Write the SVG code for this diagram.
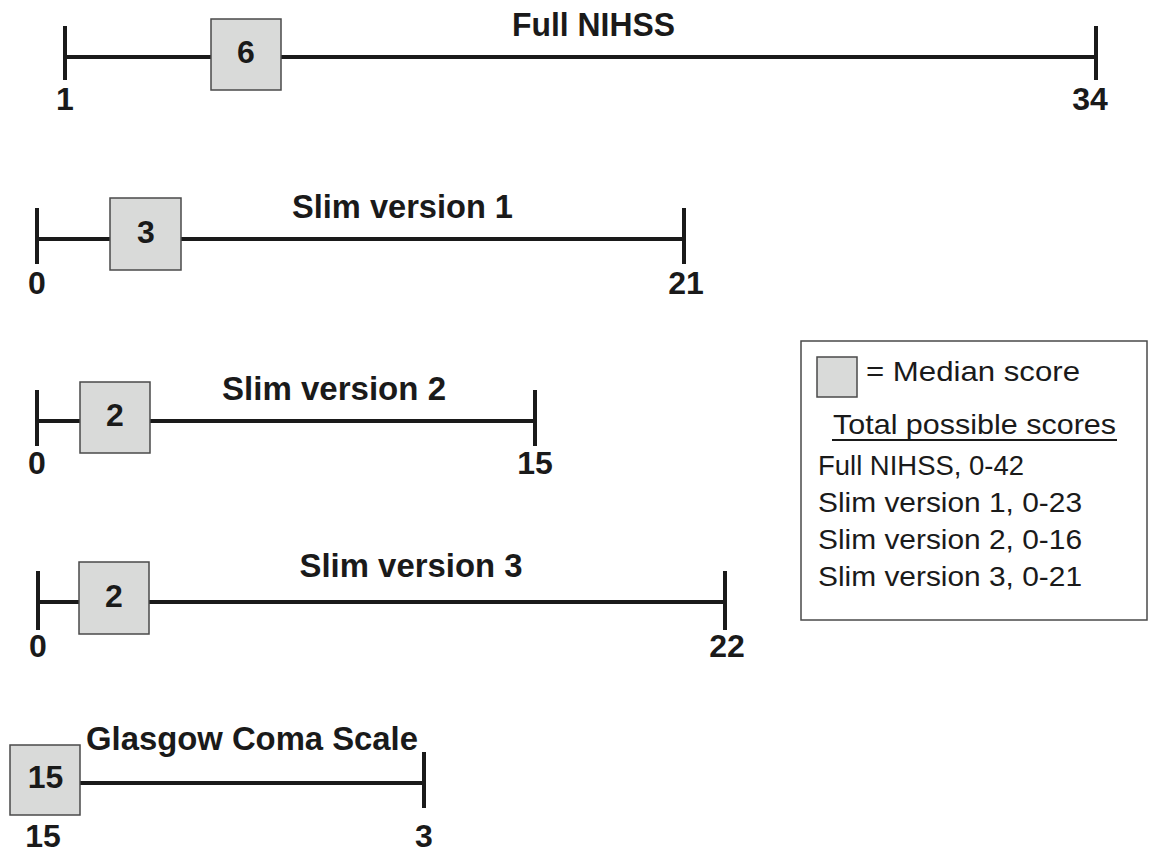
<svg xmlns="http://www.w3.org/2000/svg" width="1150" height="853" viewBox="0 0 1150 853">
<style>
.ax{stroke:#1a1a1a;stroke-width:4;fill:none}
.box{fill:#d9dad9;stroke:#4a4a4a;stroke-width:1.5}
.b{font-family:"Liberation Sans",Arial,sans-serif;font-weight:bold;font-size:32px;fill:#1a1a1a;text-anchor:middle}
.t{font-size:34px}
.r{font-family:"Liberation Sans",Arial,sans-serif;font-size:28px;fill:#1a1a1a}
</style>
<rect width="1150" height="853" fill="#fff"/>
<g id="connectors">
<path class="ax" d="M65 26V80M65 57H1096M1096 26V80"/>
<path class="ax" d="M37 208V264M37 239H684M684 208V264"/>
<path class="ax" d="M37 390V446M37 421H535M535 390V446"/>
<path class="ax" d="M38 571V630M38 602H725M725 571V630"/>
<path class="ax" d="M80 783H424M424 752V808"/>
</g>
<g id="full-nihss">
<text class="b t" x="593.5" y="36" textLength="163" lengthAdjust="spacingAndGlyphs">Full NIHSS</text>
<rect class="box" x="211" y="19" width="70" height="71"/>
<text class="b" x="246" y="63">6</text>
<text class="b" x="65" y="110">1</text>
<text class="b" x="1090" y="110">34</text>
</g>
<g id="slim1">
<text class="b t" x="402.5" y="218" textLength="221" lengthAdjust="spacingAndGlyphs">Slim version 1</text>
<rect class="box" x="110" y="198" width="71" height="72"/>
<text class="b" x="146" y="243">3</text>
<text class="b" x="37" y="294">0</text>
<text class="b" x="686" y="294">21</text>
</g>
<g id="slim2">
<text class="b t" x="334" y="400" textLength="224" lengthAdjust="spacingAndGlyphs">Slim version 2</text>
<rect class="box" x="80" y="382" width="70" height="71"/>
<text class="b" x="115" y="426">2</text>
<text class="b" x="37" y="474">0</text>
<text class="b" x="535" y="474">15</text>
</g>
<g id="slim3">
<text class="b t" x="411" y="577" textLength="223" lengthAdjust="spacingAndGlyphs">Slim version 3</text>
<rect class="box" x="79" y="562" width="70" height="72"/>
<text class="b" x="114" y="607">2</text>
<text class="b" x="38" y="657">0</text>
<text class="b" x="727" y="657">22</text>
</g>
<g id="gcs">
<text class="b t" x="252" y="750" textLength="332" lengthAdjust="spacingAndGlyphs">Glasgow Coma Scale</text>
<rect class="box" x="10" y="745" width="70" height="70"/>
<text class="b" x="45.5" y="788">15</text>
<text class="b" x="43" y="847">15</text>
<text class="b" x="424" y="847">3</text>
</g>
<g id="legend">
<rect x="801" y="341" width="346" height="279" fill="#fff" stroke="#4a4a4a" stroke-width="1.5"/>
<rect class="box" x="817" y="357" width="40" height="40"/>
<text class="r" x="866" y="381" textLength="214" lengthAdjust="spacingAndGlyphs">= Median score</text>
<text class="r" x="833" y="434" textLength="283" lengthAdjust="spacingAndGlyphs">Total possible scores</text>
<line x1="832" y1="440" x2="1117" y2="440" stroke="#1a1a1a" stroke-width="2"/>
<text class="r" x="818" y="475" textLength="206" lengthAdjust="spacingAndGlyphs">Full NIHSS, 0-42</text>
<text class="r" x="818" y="512" textLength="264" lengthAdjust="spacingAndGlyphs">Slim version 1, 0-23</text>
<text class="r" x="818" y="549" textLength="264" lengthAdjust="spacingAndGlyphs">Slim version 2, 0-16</text>
<text class="r" x="818" y="586" textLength="264" lengthAdjust="spacingAndGlyphs">Slim version 3, 0-21</text>
</g>
</svg>
